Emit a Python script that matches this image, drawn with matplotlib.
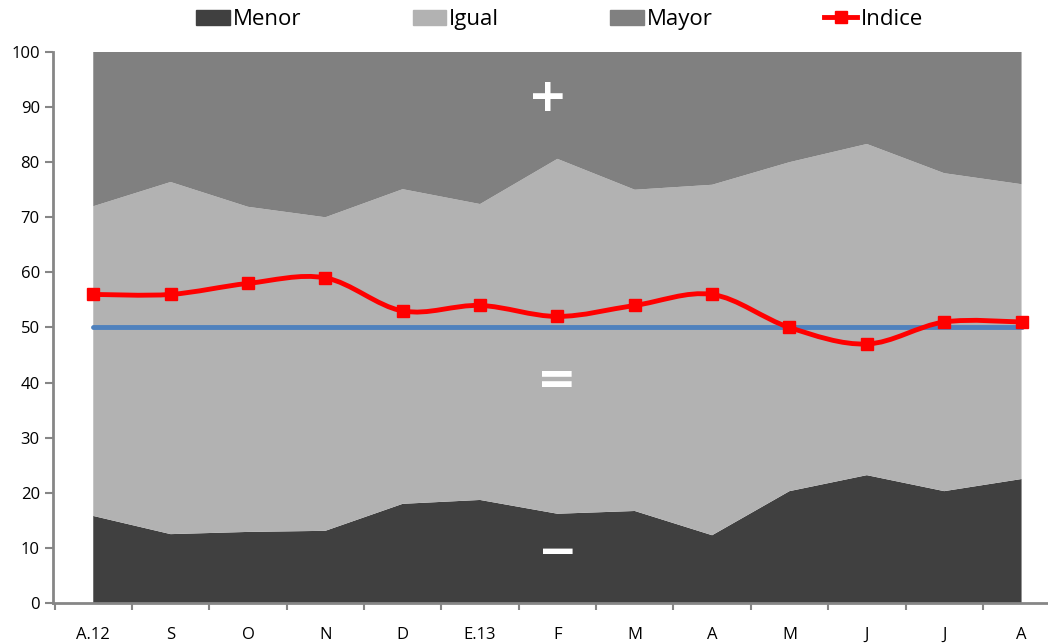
import numpy as np
import matplotlib.pyplot as plt
from matplotlib.path import Path
from matplotlib.patches import PathPatch, Patch
from matplotlib.lines import Line2D

plt.rcParams['font.family'] = ['Open Sans', 'DejaVu Sans']

meses = ['A.12', 'S', 'O', 'N', 'D', 'E.13', 'F', 'M', 'A', 'M', 'J', 'J', 'A']
menor = [15.8, 12.5, 12.9, 13.1, 18.0, 18.7, 16.2, 16.7, 12.3, 20.3, 23.2, 20.3, 22.5]
igual = [56.2, 63.9, 59.0, 56.9, 57.1, 53.7, 64.4, 58.3, 63.6, 59.7, 60.1, 57.7, 53.5]
mayor = [100 - a - b for a, b in zip(menor, igual)]
indice = [56, 56, 58, 59, 53, 54, 52, 54, 56, 50, 47, 51, 51]

x = np.arange(len(meses))

fig = plt.figure(figsize=(10.48, 6.43), dpi=100)
ax = fig.add_axes([0.0506, 0.0622, 0.95, 0.857])

ax.stackplot(x, menor, igual, mayor, colors=['#404040', '#b2b2b2', '#808080'],
             linewidth=0)
ax.plot([x[0], x[-1]], [50, 50], color='#4f81bd', lw=3.5, solid_capstyle='round', zorder=3)

# smoothed line (Excel style bezier)
pts = np.column_stack([x, indice]).astype(float)
verts = [pts[0]]
codes = [Path.MOVETO]
for i in range(len(pts) - 1):
    p0 = pts[max(i - 1, 0)]
    p1 = pts[i]
    p2 = pts[i + 1]
    p3 = pts[min(i + 2, len(pts) - 1)]
    c1 = p1 + (p2 - p0) / 6
    c2 = p2 - (p3 - p1) / 6
    verts += [c1, c2, p2]
    codes += [Path.CURVE4] * 3
ax.add_patch(PathPatch(Path(verts, codes), fill=False, edgecolor='#ff0000', lw=3.5, zorder=4))
ax.plot(x, indice, 's', color='#ff0000', ms=9, zorder=5)

sym = dict(color='white', fontsize=34, fontweight='bold', ha='center', va='center',
           family='DejaVu Sans')
ax.text(5.87, 91.6, '+', **sym)
ax.text(5.99, 40.2, '=', **sym)
ax.text(6.0, 9.0, '\u2212', **sym)

ax.set_xlim(-0.52, 12.35)
ax.set_ylim(0, 100)
ax.set_yticks(range(0, 101, 10))
ax.set_xticks(x)
ax.set_xticklabels(meses)
ax.set_xticks(np.arange(-0.5, 12.5, 1), minor=True)
ax.tick_params(axis='x', which='major', length=0, pad=17, labelsize=12)
ax.tick_params(axis='x', which='minor', length=5, color='#868686', width=1.5)
ax.tick_params(axis='y', length=6, color='#868686', width=1.5, labelsize=12)
for s in ['top', 'right']:
    ax.spines[s].set_visible(False)
for s in ['left', 'bottom']:
    ax.spines[s].set_color('#868686')
    ax.spines[s].set_linewidth(2)

handles = [Patch(color='#404040'), Patch(color='#b2b2b2'), Patch(color='#808080'),
           Line2D([], [], color='#ff0000', lw=3.5, marker='s', ms=9)]
fig.legend(handles, ['Menor', 'Igual', 'Mayor', 'Indice'], loc='upper center',
           bbox_to_anchor=(0.534, 1.017), ncol=4, frameon=False, fontsize=16,
           columnspacing=5.0, handlelength=1.5, handletextpad=0.15)

plt.savefig('out.png', dpi=100)
